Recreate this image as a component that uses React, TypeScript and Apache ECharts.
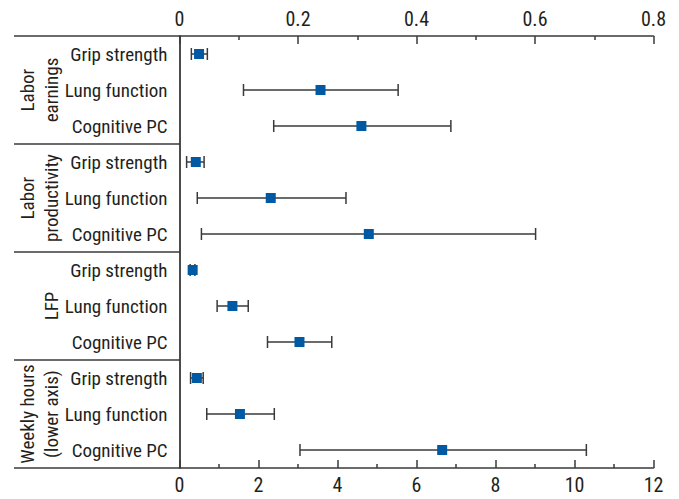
import React, { useEffect, useRef } from "react";
import * as echarts from "echarts";

const outcomes = ["Labor\nearnings", "Labor\nproductivity", "LFP", "Weekly hours\n(lower axis)"];
const measures = ["Grip strength", "Lung function", "Cognitive PC"];

// Top axis (share) groups: Labor earnings, Labor productivity, LFP
const topEstimate = [0.033, 0.238, 0.307, 0.0275, 0.154, 0.3195, 0.0222, 0.0893, 0.2025];
const topLower = [0.02, 0.108, 0.159, 0.012, 0.03, 0.037, 0.018, 0.0635, 0.1485];
const topUpper = [0.047, 0.369, 0.458, 0.0415, 0.281, 0.601, 0.026, 0.116, 0.257];

// Lower axis group: Weekly hours
const hoursEstimate = [0.44, 1.53, 6.65];
const hoursLower = [0.28, 0.69, 3.05];
const hoursUpper = [0.6, 2.4, 10.3];

const topTicks = { min: 0, max: 0.8, interval: 0.2 };
const bottomTicks = { min: 0, max: 12, interval: 2 };

const FONT = "'Roboto Condensed', 'Liberation Sans Narrow', 'DejaVu Sans Condensed', sans-serif";
const TEXT = "#231f20";
const LINE = "#3a3a3a";
const BLUE = "#005aa3";

export default function App() {
  const ref = useRef<HTMLDivElement>(null);

  useEffect(() => {
    if (!ref.current) return;
    const chart = echarts.init(ref.current, undefined, { renderer: "svg" });

    const categories: string[] = [];
    outcomes.forEach((o, gi) => measures.forEach((m) => categories.push(gi + "|" + m)));

    const topBars = topEstimate.map((_, i) => [topLower[i], topUpper[i], i]);
    const topPts = topEstimate.map((v, i) => [v, i]);
    const offset = topEstimate.length;
    const hourBars = hoursEstimate.map((_, i) => [hoursLower[i], hoursUpper[i], offset + i]);
    const hourPts = hoursEstimate.map((v, i) => [v, offset + i]);

    const renderErr = (params: any, api: any) => {
      const y = api.value(2);
      const a = api.coord([api.value(0), y]);
      const b = api.coord([api.value(1), y]);
      const h = 6;
      const style = { stroke: LINE, lineWidth: 1.5 };
      return {
        type: "group",
        children: [
          { type: "line", shape: { x1: a[0], y1: a[1], x2: b[0], y2: b[1] }, style },
          { type: "line", shape: { x1: a[0], y1: a[1] - h, x2: a[0], y2: a[1] + h }, style },
          { type: "line", shape: { x1: b[0], y1: b[1] - h, x2: b[0], y2: b[1] + h }, style },
        ],
      };
    };

    const axisCommon = {
      type: "value" as const,
      axisLine: { show: true, lineStyle: { color: LINE, width: 1.5 } },
      axisTick: { show: true, inside: true, length: 8, lineStyle: { color: LINE, width: 1.5 } },
      minorTick: { show: true, splitNumber: 2, length: 4, lineStyle: { color: LINE, width: 1.5 } },
      splitLine: { show: false },
      minorSplitLine: { show: false },
      axisLabel: { color: TEXT, fontSize: 20, fontFamily: FONT },
    };

    chart.setOption({
      animation: false,
      grid: { left: 179.5, right: 25.5, top: 36, bottom: 31, containLabel: false },
      xAxis: [
        { ...axisCommon, position: "top", ...topTicks, axisLabel: { ...axisCommon.axisLabel, margin: 7 } },
        { ...axisCommon, position: "bottom", ...bottomTicks, axisLabel: { ...axisCommon.axisLabel, margin: 7 } },
      ],
      yAxis: {
        type: "category",
        inverse: true,
        data: categories,
        axisLine: { show: true, lineStyle: { color: "#111", width: 1.5 } },
        axisTick: { show: false },
        axisLabel: {
          color: TEXT,
          fontSize: 19,
          fontFamily: FONT,
          margin: 12,
          formatter: (v: string) => v.split("|")[1],
        },
      },
      series: [
        { type: "custom", xAxisIndex: 0, renderItem: renderErr, encode: { x: [0, 1], y: 2 }, data: topBars, z: 2 },
        { type: "custom", xAxisIndex: 1, renderItem: renderErr, encode: { x: [0, 1], y: 2 }, data: hourBars, z: 2 },
        { type: "scatter", xAxisIndex: 0, symbol: "rect", symbolSize: 10, itemStyle: { color: BLUE, opacity: 1 }, data: topPts, z: 3 },
        { type: "scatter", xAxisIndex: 1, symbol: "rect", symbolSize: 10, itemStyle: { color: BLUE, opacity: 1 }, data: hourPts, z: 3 },
      ],
    });

    const c0 = chart.convertToPixel({ yAxisIndex: 0 }, 0) as number;
    const c1 = chart.convertToPixel({ yAxisIndex: 0 }, 1) as number;
    const band = c1 - c0;
    const boundary = (k: number) => c0 - band / 2 + k * band;
    const gridLeft = chart.convertToPixel({ xAxisIndex: 0 }, 0) as number;
    const leftEdge = 14;

    const graphics: any[] = [];
    for (let g = 0; g <= outcomes.length; g++) {
      const y = boundary(g * measures.length);
      graphics.push({
        type: "line",
        shape: { x1: leftEdge, y1: y, x2: gridLeft, y2: y },
        style: { stroke: LINE, lineWidth: 1.5 },
      });
    }
    outcomes.forEach((o, g) => {
      const yc = boundary(g * measures.length + measures.length / 2);
      graphics.push({
        type: "text",
        x: 63,
        y: yc,
        rotation: Math.PI / 2,
        style: {
          text: o,
          fill: TEXT,
          fontSize: 19,
          fontFamily: FONT,
          lineHeight: 24,
          align: "center",
          verticalAlign: "bottom",
        },
      });
    });
    chart.setOption({ graphic: graphics });

    return () => chart.dispose();
  }, []);

  return (
    <div
      ref={ref}
      style={{ position: "fixed", left: 0, top: 0, width: 679, height: 499, background: "#fff" }}
    />
  );
}
